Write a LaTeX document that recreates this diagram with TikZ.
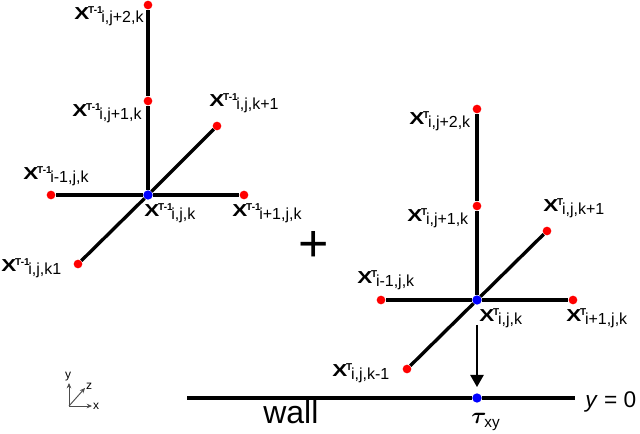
\documentclass[tikz,border=0pt]{standalone}
\usepackage{amsmath}
\usepackage{fontspec}
\setmainfont{Liberation Sans}
\usepackage{tikz}
\usetikzlibrary{arrows.meta}

% X with a bold superscript and a plain subscript
\newcommand{\gridlab}[2]{\scalebox{1.3}[1]{\fontsize{13}{13}\selectfont\bfseries X}\kern-0.8pt\raisebox{5pt}{\fontsize{7.5}{8}\selectfont\bfseries #1}\kern-1pt\raisebox{-1.6pt}{\fontsize{12}{13}\selectfont #2}}

\tikzset{
    reddot/.style={circle, fill=red, inner sep=0pt, minimum size=6.5pt},
    bluedot/.style={circle, fill=blue, inner sep=0pt, minimum size=7pt},
    gridlabel/.style={anchor=base west, inner sep=0pt},
    gridline/.style={line width=2.5pt, black},
    axisline/.style={line width=0.7pt, black!70, -{Stealth[length=4pt, width=3.5pt]}},
    axislabel/.style={font=\fontsize{9}{9}\selectfont, inner sep=0pt}
}

\begin{document}
\begin{tikzpicture}[x=0.75pt, y=-0.75pt]
        \useasboundingbox (0, 0) rectangle (640, 434);

        % stencil at the previous step
        \node[bluedot] (c1) at (148, 195) {};
        \node[reddot] (top1) at (148, 5) {};
        \node[reddot] (mid1) at (148, 101) {};
        \node[reddot] (e1) at (244, 195) {};
        \node[reddot] (w1) at (51, 195) {};
        \node[reddot] (ne1) at (217, 126) {};
        \node[reddot] (sw1) at (78, 264) {};

        \draw[gridline] (c1) -- (mid1);
        \draw[gridline] (mid1) -- (top1);
        \draw[gridline] (c1) -- (e1);
        \draw[gridline] (c1) -- (w1);
        \draw[gridline] (c1) -- (ne1);
        \draw[gridline] (c1) -- (sw1);

        \node[gridlabel] (ltop1) at (74, 20) {\gridlab{T-1}{i,j+2,k}};
        \node[gridlabel] (lmid1) at (72, 117) {\gridlab{T-1}{i,j+1,k}};
        \node[gridlabel] (lne1) at (209, 107) {\gridlab{T-1}{i,j,k+1}};
        \node[gridlabel] (lw1) at (23, 180) {\gridlab{T-1}{i-1,j,k}};
        \node[gridlabel] (lc1) at (144, 217) {\gridlab{T-1}{i,j,k}};
        \node[gridlabel] (le1) at (232, 217) {\gridlab{T-1}{i+1,j,k}};
        \node[gridlabel] (lsw1) at (1, 272) {\gridlab{T-1}{i,j,k1}};

        % plus sign between the stencils
        \node[font=\fontsize{39}{39}\selectfont, inner sep=0pt] (plus) at (314, 246) {+};

        % stencil at the current step
        \node[bluedot] (c2) at (477, 300) {};
        \node[reddot] (top2) at (477, 109) {};
        \node[reddot] (mid2) at (477, 206) {};
        \node[reddot] (e2) at (573, 300) {};
        \node[reddot] (w2) at (381, 300) {};
        \node[reddot] (ne2) at (547, 231) {};
        \node[reddot] (sw2) at (407, 369) {};

        \draw[gridline] (c2) -- (mid2);
        \draw[gridline] (mid2) -- (top2);
        \draw[gridline] (c2) -- (e2);
        \draw[gridline] (c2) -- (w2);
        \draw[gridline] (c2) -- (ne2);
        \draw[gridline] (c2) -- (sw2);

        \node[gridlabel] (ltop2) at (409, 125) {\gridlab{T}{i,j+2,k}};
        \node[gridlabel] (lmid2) at (407, 222) {\gridlab{T}{i,j+1,k}};
        \node[gridlabel] (lne2) at (543, 212) {\gridlab{T}{i,j,k+1}};
        \node[gridlabel] (lw2) at (357, 284) {\gridlab{T}{i-1,j,k}};
        \node[gridlabel] (lc2) at (479, 322) {\gridlab{T}{i,j,k}};
        \node[gridlabel] (le2) at (566, 322) {\gridlab{T}{i+1,j,k}};
        \node[gridlabel] (lsw2) at (332, 377) {\gridlab{T}{i,j,k-1}};

        % wall and the shear stress point on it
        \node[bluedot] (tau) at (477, 398) {};
        \coordinate (wallL) at (187, 398);
        \coordinate (wallR) at (575, 398);
        \coordinate (arrowS) at (477, 325);
        \coordinate (arrowE) at (477, 387);
        \draw[gridline] (wallL) -- (tau);
        \draw[gridline] (tau) -- (wallR);
        \draw[line width=1pt, -{Triangle[length=9pt, width=10pt]}] (arrowS) -- (arrowE);

        \node[font=\fontsize{24}{24}\selectfont, anchor=base west, inner sep=0pt] (wall) at (263, 424) {wall};
        \node[font=\fontsize{17}{17}\selectfont, anchor=base west, inner sep=0pt] (taulab) at (471, 424) {$\boldsymbol{\tau}$\kern-1.5pt\raisebox{-3pt}{\fontsize{11.5}{12}\selectfont xy}};
        \node[font=\fontsize{17}{17}\selectfont, anchor=base west, inner sep=0pt] (yzero) at (585, 408) {\textit{y} = 0};

        % small axes
        \coordinate (orig) at (69, 406);
        \coordinate (axx) at (92, 406);
        \coordinate (axy) at (69, 383);
        \coordinate (axz) at (85, 388);
        \draw[axisline] (orig) -- (axx);
        \draw[axisline] (orig) -- (axy);
        \draw[axisline] (orig) -- (axz);
        \node[axislabel] (xlab) at (96, 406) {x};
        \node[axislabel] (ylab) at (68, 377) {y};
        \node[axislabel] (zlab) at (89, 386) {z};
    \end{tikzpicture}
\end{document}
